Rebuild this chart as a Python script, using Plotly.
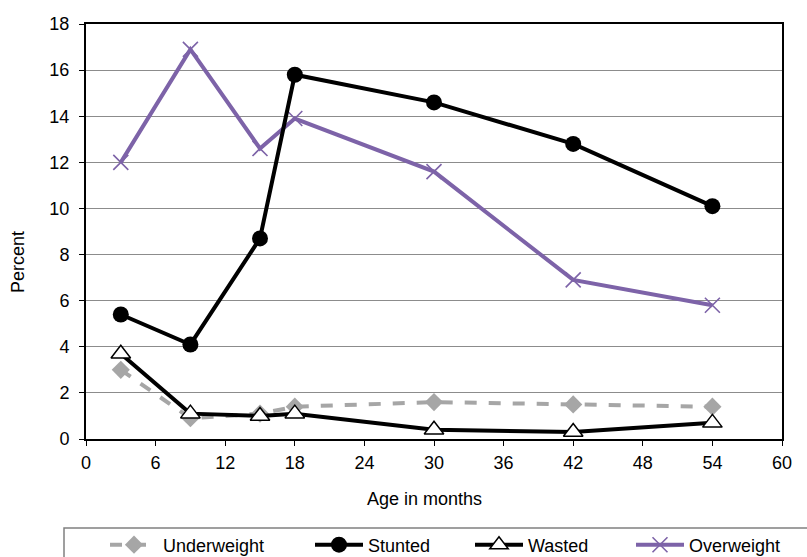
import plotly.graph_objects as go

# Age groups (months) and prevalence (%) of each nutritional status
age_months = [3, 9, 15, 18, 30, 42, 54]
underweight = [3.0, 0.9, 1.1, 1.4, 1.6, 1.5, 1.4]
stunted = [5.4, 4.1, 8.7, 15.8, 14.6, 12.8, 10.1]
wasted = [3.7, 1.1, 1.0, 1.1, 0.4, 0.3, 0.7]
overweight = [12.0, 16.9, 12.6, 13.9, 11.6, 6.9, 5.8]

x_ticks = [0, 6, 12, 18, 24, 30, 36, 42, 48, 54, 60]
y_ticks = [0, 2, 4, 6, 8, 10, 12, 14, 16, 18]

FONT = "Liberation Sans, Arial, sans-serif"
PURPLE = "#7d63a8"
GRAY = "#a6a6a6"

fig = go.Figure()

# Overweight drawn first so the black lines sit on top of it
fig.add_trace(go.Scatter(
    x=age_months, y=overweight, name="Overweight", mode="lines+markers",
    line=dict(color=PURPLE, width=4),
    marker=dict(symbol="x-thin", size=15, line=dict(color=PURPLE, width=1.6)),
    legend="legend4",
))
fig.add_trace(go.Scatter(
    x=age_months, y=underweight, name="Underweight", mode="lines+markers",
    line=dict(color=GRAY, width=4, dash="dash"),
    marker=dict(symbol="diamond", size=14, color=GRAY),
    legend="legend",
))
fig.add_trace(go.Scatter(
    x=age_months, y=stunted, name="Stunted", mode="lines+markers",
    line=dict(color="black", width=4),
    marker=dict(symbol="circle", size=16, color="black"),
    legend="legend2",
))
fig.add_trace(go.Scatter(
    x=age_months, y=wasted, name="Wasted", mode="lines+markers",
    line=dict(color="black", width=4),
    marker=dict(symbol="triangle-up", size=17, color="white",
                line=dict(color="black", width=1.5)),
    legend="legend3",
))

L, R, T, B = 86, 25, 24, 118
W, H = 807, 557
pw, ph = W - L - R, H - T - B


def px_to_paper_x(px):
    return (px - L) / pw


def px_to_paper_y(py):
    return (H - B - py) / ph


legend_common = dict(
    orientation="h", yanchor="middle", xanchor="left",
    font=dict(family=FONT, size=18, color="black"),
    bgcolor="rgba(0,0,0,0)", borderwidth=0, itemwidth=48,
)
legend_y = px_to_paper_y(545)

fig.update_layout(
    width=W, height=H,
    margin=dict(l=L, r=R, t=T, b=B, autoexpand=False),
    paper_bgcolor="white", plot_bgcolor="white",
    font=dict(family=FONT, size=18, color="black"),
    showlegend=True,
    legend=dict(x=px_to_paper_x(105), y=legend_y, **legend_common),
    legend2=dict(x=px_to_paper_x(310), y=legend_y, **legend_common),
    legend3=dict(x=px_to_paper_x(470), y=legend_y, **legend_common),
    legend4=dict(x=px_to_paper_x(631), y=legend_y, **legend_common),
    xaxis=dict(
        range=[0, 60], tickvals=x_ticks, ticktext=[str(v) for v in x_ticks],
        showgrid=False, zeroline=False,
        showline=True, linecolor="black", linewidth=2, mirror=True,
        ticks="outside", ticklen=5, tickwidth=1, tickcolor="black",
        tickfont=dict(family=FONT, size=18), ticklabelstandoff=1,
    ),
    yaxis=dict(
        range=[0, 18], tickvals=y_ticks, ticktext=[str(v) for v in y_ticks],
        showgrid=True, gridcolor="#8c8c8c", gridwidth=1, zeroline=False,
        showline=True, linecolor="black", linewidth=2, mirror=True,
        ticks="outside", ticklen=5, tickwidth=1, tickcolor="black",
        tickfont=dict(family=FONT, size=18), ticklabelstandoff=6,
    ),
    annotations=[
        dict(text="Percent", xref="paper", yref="paper",
             x=px_to_paper_x(18), y=px_to_paper_y(262),
             xanchor="center", yanchor="middle", textangle=-90,
             showarrow=False, font=dict(family=FONT, size=18)),
        dict(text="Age in months", xref="paper", yref="paper",
             x=px_to_paper_x(424), y=px_to_paper_y(499),
             xanchor="center", yanchor="middle",
             showarrow=False, font=dict(family=FONT, size=18)),
    ],
    shapes=[
        dict(type="rect", xref="paper", yref="paper",
             x0=px_to_paper_x(64), x1=px_to_paper_x(830),
             y0=px_to_paper_y(600), y1=px_to_paper_y(528),
             line=dict(color="#808080", width=1.5), fillcolor="rgba(0,0,0,0)",
             layer="below"),
    ],
)

fig.write_html("out.html")
